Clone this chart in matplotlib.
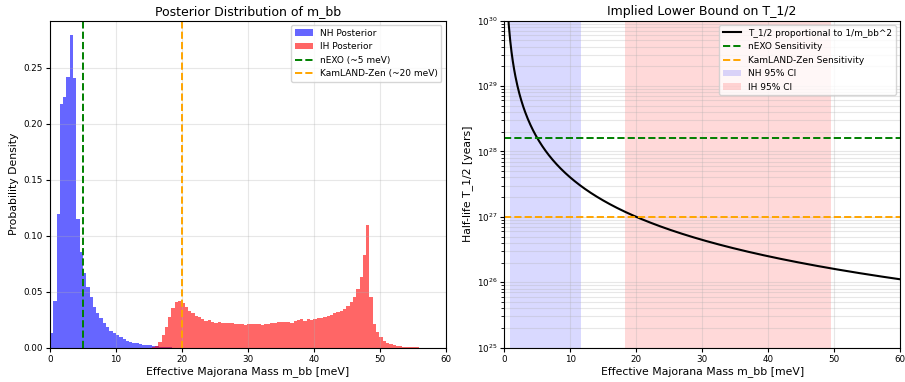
import numpy as np
import matplotlib
matplotlib.use("Agg")
import matplotlib.pyplot as plt

# histogram bins (bin width 0.5 meV)
bin_w = 0.5
nh_start = 0.0
nh_density = [0.0134, 0.042, 0.119, 0.2175, 0.2235, 0.2417, 0.279, 0.2405,
              0.115, 0.0858, 0.0665, 0.054, 0.0456, 0.0367, 0.0307, 0.0263,
              0.0218, 0.0182, 0.0152, 0.0129, 0.0114, 0.0093, 0.0078, 0.0063,
              0.0054, 0.0045, 0.0039, 0.0033, 0.0027, 0.0024, 0.0021, 0.0018,
              0.0014, 0.001, 0.0007, 0.0005, 0.0003]
ih_start = 15.4
ih_density = [0.0005, 0.0015, 0.0054, 0.0114, 0.0188, 0.0277, 0.0352, 0.0406,
              0.042, 0.0397, 0.036, 0.033, 0.031, 0.028, 0.027, 0.026,
              0.024, 0.025, 0.0233, 0.0224, 0.0233, 0.0224, 0.0224, 0.0218,
              0.0218, 0.0212, 0.0212, 0.0212, 0.0206, 0.0212, 0.021, 0.0212,
              0.0212, 0.0203, 0.0212, 0.0212, 0.0218, 0.0224, 0.023, 0.0233,
              0.023, 0.0233, 0.0224, 0.0239, 0.0248, 0.0254, 0.0242, 0.0254,
              0.0248, 0.0254, 0.0263, 0.0268, 0.0277, 0.0283, 0.0292, 0.0307,
              0.0322, 0.0331, 0.0343, 0.037, 0.041, 0.045, 0.052, 0.0635,
              0.0823, 0.1097, 0.0456, 0.0212, 0.0143, 0.0093, 0.006, 0.0045,
              0.0036, 0.0025, 0.0018, 0.0012, 0.0009, 0.0006, 0.0004, 0.0003,
              0.0002]

nexo_mbb = 5.0
kamland_mbb = 20.0
t_scale = 4e29          # T_1/2 = t_scale / m_bb^2
nh_ci = (0.86, 11.6)
ih_ci = (18.3, 49.6)

nh_edges = nh_start + bin_w * np.arange(len(nh_density))
ih_edges = ih_start + bin_w * np.arange(len(ih_density))

fig = plt.figure(figsize=(9.05, 3.82), dpi=100)
ax1 = fig.add_axes([0.0552, 0.0898, 0.4376, 0.8565])
ax2 = fig.add_axes([0.5572, 0.0898, 0.4373, 0.8565])

# left panel
b1 = ax1.bar(nh_edges, nh_density, width=bin_w, align='edge', color='blue',
             alpha=0.6, linewidth=0, label='NH Posterior')
b2 = ax1.bar(ih_edges, ih_density, width=bin_w, align='edge', color='red',
             alpha=0.6, linewidth=0, label='IH Posterior')
l1 = ax1.axvline(nexo_mbb, color='green', linestyle='--', lw=1.4,
                 label='nEXO (~5 meV)')
l2 = ax1.axvline(kamland_mbb, color='orange', linestyle='--', lw=1.4,
                 label='KamLAND-Zen (~20 meV)')
ax1.set_xlim(0, 60)
ax1.set_ylim(0, 0.292)
ax1.set_yticks([0, 0.05, 0.10, 0.15, 0.20, 0.25])
ax1.set_title('Posterior Distribution of m_bb', fontsize=9, pad=4)
ax1.set_xlabel('Effective Majorana Mass m_bb [meV]', fontsize=7.8, labelpad=2)
ax1.set_ylabel('Probability Density', fontsize=7.8, labelpad=3)
ax1.grid(True, alpha=0.3)
ax1.legend(handles=[b1, b2, l1, l2], loc='upper right', fontsize=6.5)

# right panel
m = np.linspace(0.5, 60, 600)
ax2.plot(m, t_scale / m**2, color='black', lw=1.5,
         label='T_1/2 proportional to 1/m_bb^2')
ax2.axhline(t_scale / nexo_mbb**2, color='green', linestyle='--', lw=1.4,
            label='nEXO Sensitivity')
ax2.axhline(t_scale / kamland_mbb**2, color='orange', linestyle='--', lw=1.4,
            label='KamLAND-Zen Sensitivity')
ax2.axvspan(nh_ci[0], nh_ci[1], color='blue', alpha=0.15, lw=0, label='NH 95% CI')
ax2.axvspan(ih_ci[0], ih_ci[1], color='red', alpha=0.15, lw=0, label='IH 95% CI')
ax2.set_yscale('log')
ax2.set_xlim(0, 60)
ax2.set_ylim(1e25, 1e30)
ax2.set_title('Implied Lower Bound on T_1/2', fontsize=9, pad=4)
ax2.set_xlabel('Effective Majorana Mass m_bb [meV]', fontsize=7.8, labelpad=2)
ax2.set_ylabel('Half-life T_1/2 [years]', fontsize=7.8, labelpad=3)
ax2.grid(True, which='both', alpha=0.3)
ax2.legend(loc='upper right', fontsize=6.5)

for ax in (ax1, ax2):
    ax.tick_params(labelsize=6.3, length=3, pad=2)

fig.savefig('out.png', dpi=100)
